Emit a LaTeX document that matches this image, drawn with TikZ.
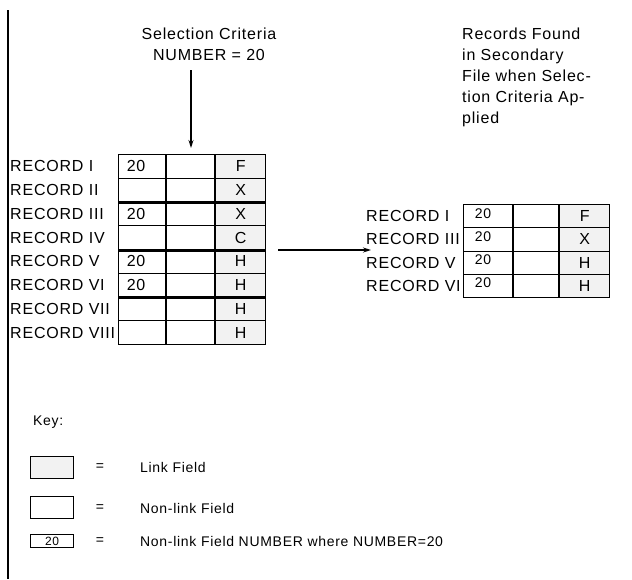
\documentclass[tikz,border=0pt]{standalone}
\usepackage{fontspec}
\setmainfont{Liberation Sans}[LetterSpace=5]
\usepackage{xcolor}
\usetikzlibrary{arrows.meta, positioning, calc}
\definecolor{linkgray}{gray}{0.95}
\tikzset{
	cell/.style={rectangle, draw, line width=1.1pt, inner sep=0pt, anchor=north west},
	linkcell/.style={cell, fill=linkgray},
	plain_text/.style={inner sep=0pt, font=\fontsize{16}{21}\selectfont},
	line/.style={draw, line width=1.1pt, ->}
}

\begin{document}
\begin{tikzpicture}[
	x=1pt, y=-1pt,
	reclabel/.style={plain_text, anchor=west},
	keylabel/.style={inner sep=0pt, anchor=west, font=\fontsize{14}{18}\selectfont},
	main_num/.style={plain_text, xshift=-6pt},
	found_num/.style={inner sep=0pt, font=\fontsize{14}{16}\selectfont, xshift=-5pt, yshift=3pt},
	group_line/.style={line width=2.8pt},
	>={Stealth[length=8pt, width=5pt]}
	]
	\useasboundingbox (0,0) rectangle (632,579);
	
	% left margin rule
	\coordinate (margin_top) at (8,10);
	\coordinate (margin_bottom) at (8,579);
	\draw[line width=1.4pt] (margin_top) -- (margin_bottom);
	
	% Selection criteria and arrow into the file
	\node[plain_text, align=center, anchor=north] (criteria) at (209,28) {Selection Criteria\\NUMBER = 20};
	\coordinate (criteria_start) at (191,70);
	\coordinate (criteria_end) at (191,148);
	\draw[line] (criteria_start) -- (criteria_end);
	
	%
	% Main file (left)
	%
	\coordinate (main_margin) at (10,0);
	\foreach \r/\rec/\num/\lnk in {1/I/20/F, 2/II//X, 3/III/20/X, 4/IV//C, 5/V/20/H, 6/VI/20/H, 7/VII//H, 8/VIII//H} {
		\pgfmathsetmacro{\rowtop}{154+23.75*(\r-1)}
		\node[cell, minimum width=47pt, minimum height=23.75pt, label={[main_num]center:\num}] (main_a_\r) at (118,\rowtop) {};
		\node[cell, minimum width=48pt, minimum height=23.75pt] (main_b_\r) at (main_a_\r.north east) {};
		\node[linkcell, minimum width=50pt, minimum height=23.75pt, label={[plain_text]center:\lnk}] (main_c_\r) at (main_b_\r.north east) {};
		\node[reclabel] (main_rec_\r) at (main_a_\r.west -| main_margin) {RECORD \rec};
	}
	% heavier rules between record pairs
	\foreach \r in {2,4,6}
		\draw[group_line] (main_a_\r.south west) -- (main_c_\r.south east);
	
	% arrow to the records found
	\coordinate (found_start) at (278,250);
	\coordinate (found_end) at (371,250);
	\draw[line] (found_start) -- (found_end);
	
	%
	% Records found (right)
	%
	\node[plain_text, align=left, anchor=north west] (found_title) at (462,28) {Records Found\\in Secondary\\File when Selec-\\tion Criteria Ap-\\plied};
	\coordinate (found_margin) at (366,0);
	\foreach \r/\rec/\lnk in {1/I/F, 2/III/X, 3/V/H, 4/VI/H} {
		\pgfmathsetmacro{\rowtop}{204+23.25*(\r-1)}
		\node[cell, minimum width=49pt, minimum height=23.25pt, label={[found_num]center:20}] (found_a_\r) at (463,\rowtop) {};
		\node[cell, minimum width=45pt, minimum height=23.25pt] (found_b_\r) at (found_a_\r.north east) {};
		\node[linkcell, minimum width=50pt, minimum height=23.25pt, label={[plain_text]center:\lnk}] (found_c_\r) at (found_b_\r.north east) {};
		\node[reclabel] (found_rec_\r) at (found_a_\r.west -| found_margin) {RECORD \rec};
	}
	
	%
	% Key
	%
	\node[keylabel] (key) at (33,422) {Key:};
	\node[linkcell, minimum width=43pt, minimum height=22pt] (key_link) at (30,456) {};
	\node[cell, minimum width=43pt, minimum height=22pt] (key_nonlink) at (30,496) {};
	\node[cell, minimum width=43pt, minimum height=13pt, font=\fontsize{12}{14}\selectfont] (key_number) at (30,534) {20};
	
	\node[keylabel, anchor=center] (key_link_eq) at (100,467) {=};
	\node[keylabel, anchor=center] (key_nonlink_eq) at (100,508) {=};
	\node[keylabel, anchor=center] (key_number_eq) at (100,541) {=};
	\node[keylabel] (key_link_text) at (140,467) {Link Field};
	\node[keylabel] (key_nonlink_text) at (140,508) {Non-link Field};
	\node[keylabel] (key_number_text) at (140,541) {Non-link Field NUMBER where NUMBER=20};
	
\end{tikzpicture}
\end{document}
